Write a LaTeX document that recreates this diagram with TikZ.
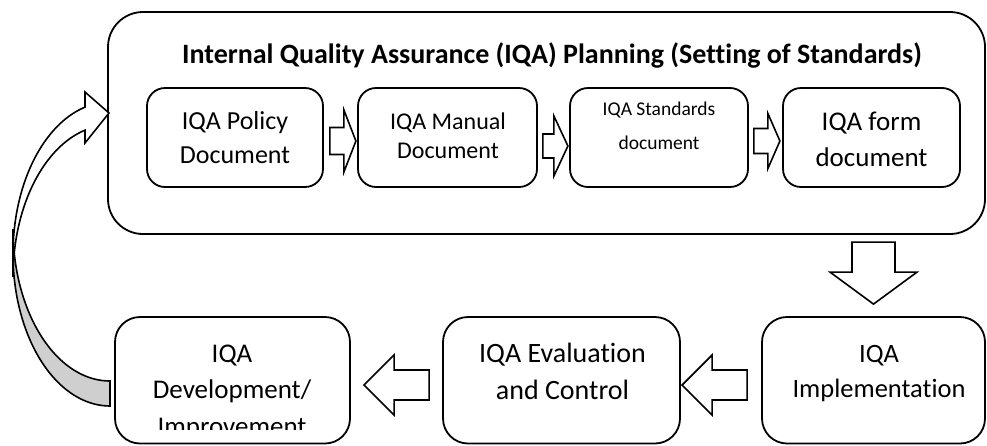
\documentclass[tikz,border=0pt]{standalone}
\usepackage{fontspec}
\setmainfont{Carlito}[Ligatures={NoCommon}]
\usetikzlibrary{calc}
\definecolor{tailgrey}{RGB}{207,207,207}

% centred multi-line text whose baseline is the first line's baseline
\newcommand\txtlines[1]{\begin{tabular}[t]{@{}c@{}}#1\end{tabular}}
% block arrows: #1 start point, #2 length, #3 head length, #4 shaft half width, #5 head half width
\newcommand\rblock[5]{\draw[blk,shift={(#1)}] (0,-#4) -- ({#2-#3},-#4) -- ({#2-#3},-#5) -- (#2,0) -- ({#2-#3},#5) -- ({#2-#3},#4) -- (0,#4) -- cycle;}
\newcommand\lblock[5]{\draw[blk,shift={(#1)}] (0,-#4) -- ({-#2+#3},-#4) -- ({-#2+#3},-#5) -- (-#2,0) -- ({-#2+#3},#5) -- ({-#2+#3},#4) -- (0,#4) -- cycle;}
\newcommand\dblock[5]{\draw[blk,shift={(#1)}] (-#4,0) -- (-#4,{#2-#3}) -- (-#5,{#2-#3}) -- (0,#2) -- (#5,{#2-#3}) -- (#4,{#2-#3}) -- (#4,0) -- cycle;}

\begin{document}
\begin{tikzpicture}[x=1pt,y=-1pt,line width=1.8pt,
  outerbox/.style={draw, rounded corners=35pt, minimum width=877pt, minimum height=222pt, inner sep=0pt},
  docbox/.style={draw, rounded corners=18pt, minimum height=99pt, inner sep=0pt},
  stagebox/.style={draw, rounded corners=25pt, minimum height=126.5pt, inner sep=0pt},
  txt/.style={inner sep=0pt, anchor=base},
  blk/.style={draw, fill=white, line width=1.6pt},
  tailpart/.style={draw, fill=tailgrey, line width=1.6pt},
  bodypart/.style={draw, fill=white, line width=1.6pt}]

\fill[white] (0,0) rectangle (987,445);
\useasboundingbox (0,0) rectangle (987,445);

% planning stage and its documents
\node[outerbox] (plan) at (546.5,123) {};
\node[txt, font=\bfseries\fontsize{28}{30}\selectfont] (title) at (552,63)
  {Internal Quality Assurance (IQA) Planning (Setting of Standards)};

\node[docbox, minimum width=176pt] (pol) at (235,137.5) {};
\node[docbox, minimum width=179pt] (man) at (447.5,137.5) {};
\node[docbox, minimum width=178pt] (std) at (659,137.5) {};
\node[docbox, minimum width=177pt] (frm) at (871.5,137.5) {};

\node[txt, font=\fontsize{26}{34}\selectfont] (polt) at (235,129.3) {\txtlines{IQA Policy\\Document}};
\node[txt, font=\fontsize{24}{29}\selectfont] (mant) at (448,129.3) {\txtlines{IQA Manual\\Document}};
\node[txt, font=\fontsize{19.5}{34}\selectfont] (stdt) at (659,115) {\txtlines{IQA Standards\\document}};
\node[txt, font=\fontsize{27}{36}\selectfont] (frmt) at (871.5,130.5) {\txtlines{IQA form\\document}};

% arrows between the documents
\rblock{$(pol.east)+(6,3.5)$}{26}{12}{13.5}{31}
\rblock{$(man.east)+(5,8.5)$}{25}{14}{12}{30}
\rblock{$(std.east)+(5,3.5)$}{26}{12}{12.5}{27.5}

% later stages
\node[stagebox, minimum width=235pt] (dev) at (232.5,380.25) {};
\node[stagebox, minimum width=237pt] (eval) at (561.5,380.25) {};
\node[stagebox, minimum width=223pt] (impl) at (873.5,380.25) {};

\begin{scope}
  \clip (115,317) rectangle (350,429);
  \node[txt, font=\fontsize{27}{36.5}\selectfont] (devt) at (232,362) {\txtlines{IQA\\Development/\\Improvement}};
\end{scope}
\node[txt, font=\fontsize{28}{37}\selectfont] (evalt) at (562.5,362) {\txtlines{IQA Evaluation\\and Control}};
\node[txt, font=\fontsize{26.5}{35}\selectfont] (implt) at (879,362) {\txtlines{IQA\\Implementation}};

% flow between the stages
\dblock{$(impl.north)+(0,-74)$}{62}{32}{21.5}{43.5}
\lblock{$(impl.west)+(-14,4.75)$}{65}{30}{15}{30}
\lblock{$(eval.west)+(-13,4.75)$}{65}{30}{15}{30}

% curved feedback arrow back to planning
\draw[tailpart] plot[domain=90:180,samples=50] ({110+97*cos(\x)},{254+152*sin(\x)})
  -- plot[domain=180:90,samples=50] ({110+97*cos(\x)},{229+152*sin(\x)}) -- cycle;
\draw[bodypart] plot[domain=180:255.06,samples=50] ({110+97*cos(\x)},{254+152*sin(\x)})
  -- (85,92) -- (109,113) -- (85,143)
  -- plot[domain=255.06:180,samples=50] ({110+97*cos(\x)},{277+152*sin(\x)}) -- cycle;

\end{tikzpicture}
\end{document}
